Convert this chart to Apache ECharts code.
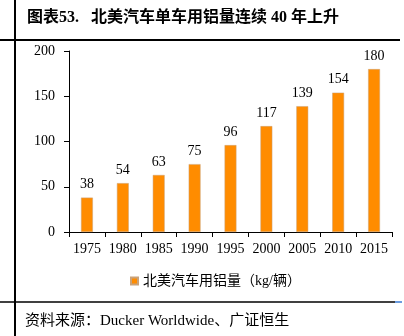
<!DOCTYPE html>
<html>
<head>
<meta charset="utf-8">
<script src="https://cdn.jsdelivr.net/npm/echarts@6/dist/echarts.min.js"></script>
<style>
html,body{margin:0;padding:0;background:#fff;}
#chart{width:404px;height:336px;}
</style>
</head>
<body>
<div id="chart"></div>
<script>
// Aluminium content per vehicle, North America (kg)
const years = ['1975','1980','1985','1990','1995','2000','2005','2010','2015'];
const aluminumKg = [38, 54, 63, 75, 96, 117, 139, 154, 180];
const yTicks = [0, 50, 100, 150, 200];

const titleText = '图表53.   北美汽车单车用铝量连续 40 年上升';
const seriesName = '北美汽车用铝量（kg/辆）';
const sourceText = '资料来源：Ducker Worldwide、广证恒生';

const serif = '"Liberation Serif", "Noto Sans CJK SC", serif';
const chart = echarts.init(document.getElementById('chart'), null, {renderer: 'canvas'});

chart.setOption({
  animation: false,
  backgroundColor: '#fff',
  grid: {left: 69, right: 12, top: 51, bottom: 104, containLabel: false},
  legend: {
    data: [seriesName],
    top: 269,
    left: 125,
    itemWidth: 7,
    itemHeight: 7,
    icon: 'rect',
    itemGap: 4,
    textStyle: {fontFamily: serif, fontSize: 14, color: '#000'}
  },
  xAxis: {
    type: 'category',
    data: years,
    axisLine: {lineStyle: {color: '#000', width: 1}},
    axisTick: {show: true, length: 5, lineStyle: {color: '#000'}},
    axisLabel: {interval: 0, fontFamily: serif, fontSize: 14, color: '#000', margin: 10}
  },
  yAxis: {
    type: 'value',
    min: yTicks[0],
    max: yTicks[yTicks.length - 1],
    interval: 50,
    axisLine: {show: true, lineStyle: {color: '#000', width: 1}},
    axisTick: {show: true, length: 5, lineStyle: {color: '#000'}},
    splitLine: {show: false},
    axisLabel: {fontFamily: serif, fontSize: 14, color: '#000', margin: 14}
  },
  series: [{
    name: seriesName,
    type: 'bar',
    data: aluminumKg,
    barWidth: '33%',
    itemStyle: {color: '#FF8C00', borderColor: '#C9A27A', borderWidth: 0.5},
    label: {
      show: true,
      position: 'top',
      distance: 6,
      fontFamily: serif,
      fontSize: 14,
      color: '#000'
    }
  }],
  graphic: [
    {type: 'line', shape: {x1: 15, y1: 0, x2: 15, y2: 336}, style: {stroke: '#000', lineWidth: 2}},
    {type: 'line', shape: {x1: 0, y1: 40, x2: 400, y2: 40}, style: {stroke: '#000', lineWidth: 2}},
    {type: 'line', shape: {x1: 0, y1: 302, x2: 395, y2: 302}, style: {stroke: '#000', lineWidth: 1.5}},
    {type: 'line', shape: {x1: 395, y1: 302, x2: 402, y2: 302}, style: {stroke: '#3A7BD5', lineWidth: 1.5}},
    {
      type: 'text', left: 27, top: 10,
      style: {text: titleText, font: 'bold 16px ' + serif, fill: '#000'}
    },
    {
      type: 'text', left: 25, top: 314,
      style: {text: sourceText, font: '15px ' + serif, fill: '#000'}
    }
  ]
});
</script>
</body>
</html>
